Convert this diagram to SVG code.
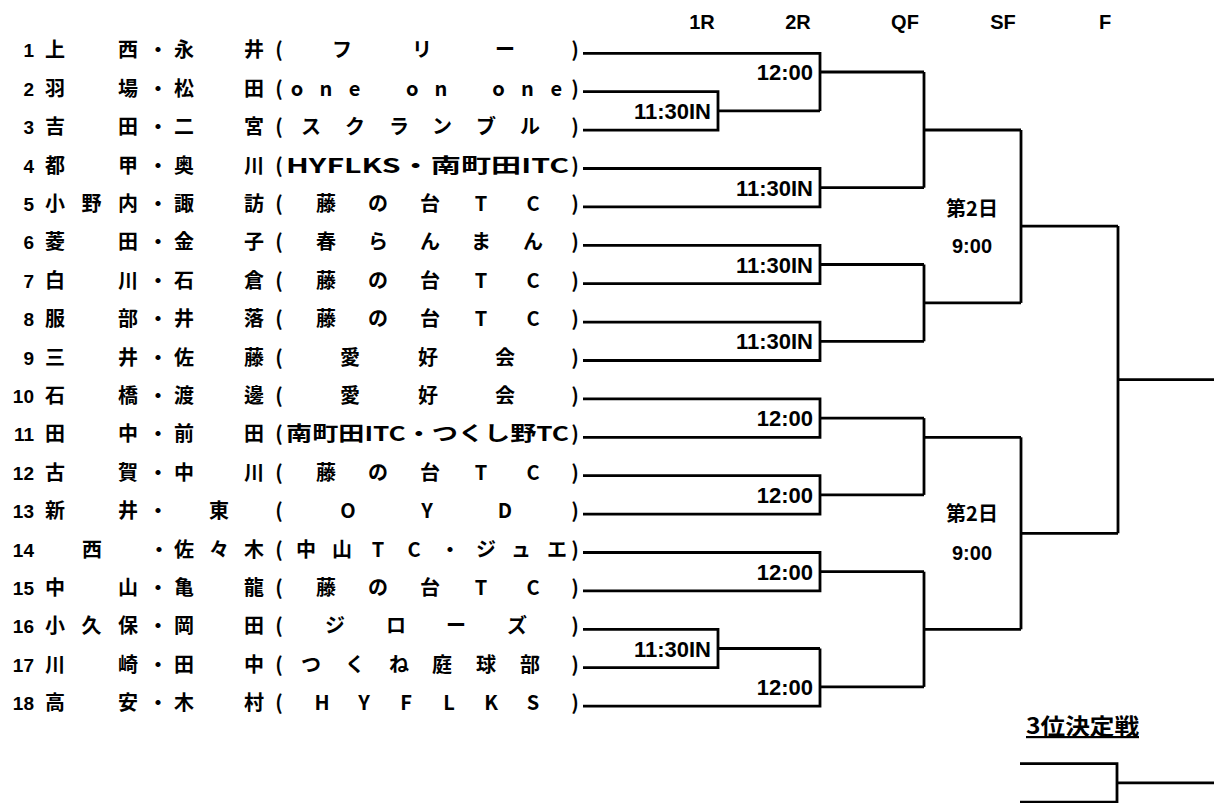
<svg xmlns="http://www.w3.org/2000/svg" width="1214" height="803" viewBox="0 0 1214 803">
<style>
.t{font-family:"Noto Sans CJK JP","Noto Sans",sans-serif;font-weight:700;font-size:20px;fill:#000}
.c{text-anchor:middle}
.n{font-family:"Liberation Sans","Noto Sans CJK JP",sans-serif;font-weight:700;font-size:19px;text-anchor:end;fill:#000}
.lbl{font-family:"Liberation Sans",sans-serif;font-weight:700;font-size:22px;text-anchor:end;fill:#000}
.hdr{font-family:"Liberation Sans",sans-serif;font-weight:700;font-size:20px;text-anchor:middle;fill:#000}
.day{font-family:"Noto Sans CJK JP",sans-serif;font-weight:700;font-size:20px;text-anchor:middle;fill:#000}
.ln{stroke:#000;stroke-width:2.8;fill:none;stroke-linejoin:miter;stroke-linecap:butt}
</style>
<rect width="1214" height="803" fill="#fff"/>
<g id="headers">
<text class="hdr" x="702" y="29">1R</text>
<text class="hdr" x="798" y="29">2R</text>
<text class="hdr" x="905" y="29">QF</text>
<text class="hdr" x="1003" y="29">SF</text>
<text class="hdr" x="1105" y="29">F</text>
</g>
<g id="entries">
<g id="entry-1"><text class="n" x="34" y="57.3">1</text><text class="t c" x="55 128 158 184 254 279 342 422 505 575" y="57.3">上西・永井(フリー)</text></g>
<g id="entry-2"><text class="n" x="34" y="95.7">2</text><text class="t c" x="55 128 158 184 254 279 297 325.8 354.6 383.4 412.2 441 469.8 498.6 527.4 556.2 575" y="95.7">羽場・松田(one on one)</text></g>
<g id="entry-3"><text class="n" x="34" y="134.1">3</text><text class="t c" x="55 128 158 184 254 279 311 355 399 442 486 530 575" y="134.1">吉田・二宮(スクランブル)</text></g>
<g id="entry-4"><text class="n" x="34" y="172.5">4</text><text class="t c" x="55 128 158 184 254 279" y="172.5">都甲・奥川(</text><text class="t" x="286" y="172.5" textLength="283" lengthAdjust="spacingAndGlyphs">HYFLKS・南町田ITC</text><text class="t c" x="575" y="172.5">)</text></g>
<g id="entry-5"><text class="n" x="34" y="210.9">5</text><text class="t c" x="55 91.5 128 158 184 254 279 326 378 430 481 533 575" y="210.9">小野内・諏訪(藤の台TC)</text></g>
<g id="entry-6"><text class="n" x="34" y="249.3">6</text><text class="t c" x="55 128 158 184 254 279 326 378 430 481 533 575" y="249.3">菱田・金子(春らんまん)</text></g>
<g id="entry-7"><text class="n" x="34" y="287.7">7</text><text class="t c" x="55 128 158 184 254 279 326 378 430 481 533 575" y="287.7">白川・石倉(藤の台TC)</text></g>
<g id="entry-8"><text class="n" x="34" y="326.1">8</text><text class="t c" x="55 128 158 184 254 279 326 378 430 481 533 575" y="326.1">服部・井落(藤の台TC)</text></g>
<g id="entry-9"><text class="n" x="34" y="364.5">9</text><text class="t c" x="55 128 158 184 254 279 350 428 505 575" y="364.5">三井・佐藤(愛好会)</text></g>
<g id="entry-10"><text class="n" x="34" y="402.9">10</text><text class="t c" x="55 128 158 184 254 279 350 428 505 575" y="402.9">石橋・渡邊(愛好会)</text></g>
<g id="entry-11"><text class="n" x="34" y="441.3">11</text><text class="t c" x="55 128 158 184 254 279" y="441.3">田中・前田(</text><text class="t" x="286" y="441.3" textLength="283" lengthAdjust="spacingAndGlyphs">南町田ITC・つくし野TC</text><text class="t c" x="575" y="441.3">)</text></g>
<g id="entry-12"><text class="n" x="34" y="479.7">12</text><text class="t c" x="55 128 158 184 254 279 326 378 430 481 533 575" y="479.7">古賀・中川(藤の台TC)</text></g>
<g id="entry-13"><text class="n" x="34" y="518.1">13</text><text class="t c" x="55 128 158 219 279 348 427 505 575" y="518.1">新井・東(OYD)</text></g>
<g id="entry-14"><text class="n" x="34" y="556.5">14</text><text class="t c" x="92 159 184 219 254 279 306 342 378 414 450 486 521 557 575" y="556.5">西・佐々木(中山TC・ジュエ)</text></g>
<g id="entry-15"><text class="n" x="34" y="594.9">15</text><text class="t c" x="55 128 158 184 254 279 326 378 430 481 533 575" y="594.9">中山・亀龍(藤の台TC)</text></g>
<g id="entry-16"><text class="n" x="34" y="633.3">16</text><text class="t c" x="55 91.5 128 158 184 254 279 335 396 456 517 575" y="633.3">小久保・岡田(ジローズ)</text></g>
<g id="entry-17"><text class="n" x="34" y="671.7">17</text><text class="t c" x="55 128 158 184 254 279 311 355 399 442 486 530 575" y="671.7">川崎・田中(つくね庭球部)</text></g>
<g id="entry-18"><text class="n" x="34" y="710.1">18</text><text class="t c" x="55 128 158 184 254 279 322 364 406 449 491 533 575" y="710.1">高安・木村(HYFLKS)</text></g>
</g>
<g id="connectors" class="ln">
<path d="M583 53.3H820V110.9"/>
<path d="M583 91.7H718V130.1H583"/>
<path d="M718 110.9H820"/>
<path d="M820 72H924"/>
<path d="M583 168.5H820V206.9H583"/>
<path d="M820 187.7H924"/>
<path d="M924 72V187.7"/>
<path d="M924 130H1021"/>
<path d="M583 245.3H820V283.7H583"/>
<path d="M820 264.5H924"/>
<path d="M583 322.1H820V360.5H583"/>
<path d="M820 341.3H924"/>
<path d="M924 264.5V341.3"/>
<path d="M924 302.9H1021"/>
<path d="M1021 130V302.9"/>
<path d="M1021 226.1H1118"/>
<path d="M583 398.9H820V437.3H583"/>
<path d="M820 418.1H924"/>
<path d="M583 475.7H820V514.1H583"/>
<path d="M820 494.9H924"/>
<path d="M924 418.1V494.9"/>
<path d="M924 437.3H1021"/>
<path d="M583 552.5H820V590.9H583"/>
<path d="M820 571.7H924"/>
<path d="M583 629.3H718V667.7H583"/>
<path d="M718 648.5H820"/>
<path d="M820 648.5V706.1H583"/>
<path d="M820 686.9H924"/>
<path d="M924 571.7V686.9"/>
<path d="M924 629.3H1021"/>
<path d="M1021 437.3V629.3"/>
<path d="M1021 533.3H1118"/>
<path d="M1118 226.1V533.3"/>
<path d="M1118 379.7H1214"/>
<path d="M1020 763.7H1117V802.1H1020"/>
<path d="M1117 782.9H1214"/>
</g>
<g id="match-labels">
<text class="lbl" x="813" y="80">12:00</text>
<text class="lbl" x="711" y="118.9">11:30IN</text>
<text class="lbl" x="813" y="195.7">11:30IN</text>
<text class="lbl" x="813" y="272.5">11:30IN</text>
<text class="lbl" x="813" y="349.3">11:30IN</text>
<text class="lbl" x="813" y="426.1">12:00</text>
<text class="lbl" x="813" y="502.9">12:00</text>
<text class="lbl" x="813" y="579.7">12:00</text>
<text class="lbl" x="711" y="656.5">11:30IN</text>
<text class="lbl" x="813" y="694.9">12:00</text>
</g>
<g id="sf-top">
<text class="day" x="972" y="216">第2日</text>
<text class="hdr" x="972" y="253">9:00</text>
</g>
<g id="sf-bottom">
<text class="day" x="972" y="521">第2日</text>
<text class="hdr" x="972" y="560">9:00</text>
</g>
<g id="third-place">
<text class="day" x="1026" y="734" style="text-anchor:start;font-size:22px" textLength="113" lengthAdjust="spacingAndGlyphs" text-decoration="underline">3位決定戦</text>
</g>
</svg>
